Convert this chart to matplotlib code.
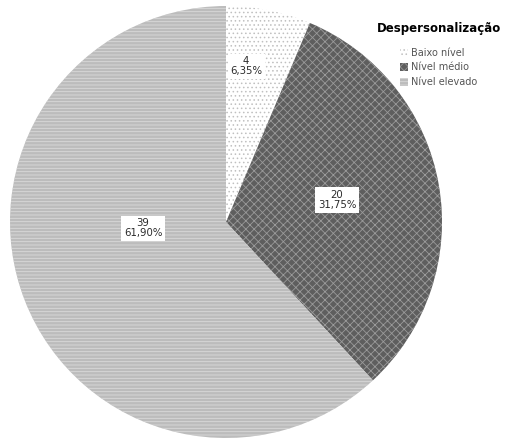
import numpy as np
import matplotlib.pyplot as plt
from matplotlib.patches import Patch

categories = ["Baixo nível", "Nível médio", "Nível elevado"]
counts = [4, 20, 39]
legend_title = "Despersonalização"

faces = ["#ffffff", "#5e5e5e", "#bcbcbc"]
hatch_colors = ["#c0c0c0", "#9a9a9a", "#dadada"]
hatches = ["....", "xxxx", "-----"]

# where each value label sits (axes data units, pie radius = 1)
label_xy = [(0.093, 0.722), (0.514, 0.102), (-0.384, -0.028)]

plt.rcParams["hatch.linewidth"] = 0.6

fig = plt.figure(figsize=(5.05, 4.38), dpi=100)
ax = fig.add_axes([10 / 505, 0 / 438, 432 / 505, 432 / 438])

total = sum(counts)
wedges, _ = ax.pie(counts, startangle=90, counterclock=False, radius=1,
                   wedgeprops=dict(linewidth=0))
for w, fc, hc, h in zip(wedges, faces, hatch_colors, hatches):
    w.set_facecolor(fc)
    w.set_edgecolor(hc)
    w.set_hatch(h)
    w.set_linewidth(0)

for c, (x, y) in zip(counts, label_xy):
    pct = f"{100 * c / total:.2f}%".replace(".", ",")
    ax.text(x, y, f"{c}\n{pct}", ha="center", va="center",
            fontsize=7.3, color="#2a2a2a", linespacing=1.0,
            bbox=dict(facecolor="white", edgecolor="none", pad=1.8))

ax.set_xlim(-1, 1)
ax.set_ylim(-1, 1)
ax.set_aspect("equal")
ax.axis("off")

handles = [Patch(facecolor=fc, edgecolor=hc, hatch=h, linewidth=0)
           for fc, hc, h in zip(faces, hatch_colors, hatches)]
leg = fig.legend(handles, categories, title=legend_title,
                 loc="upper right", bbox_to_anchor=(1.005, 0.965),
                 frameon=False, fontsize=7, handlelength=0.8,
                 handleheight=0.8, handletextpad=0.3, labelspacing=0.5,
                 borderpad=0.2, labelcolor="#555555")
leg.get_title().set_fontsize(8.5)
leg.get_title().set_fontweight("bold")
leg._legend_box.align = "center"
leg._legend_box.sep = 9

fig.savefig("out.png", dpi=100, facecolor="white")
